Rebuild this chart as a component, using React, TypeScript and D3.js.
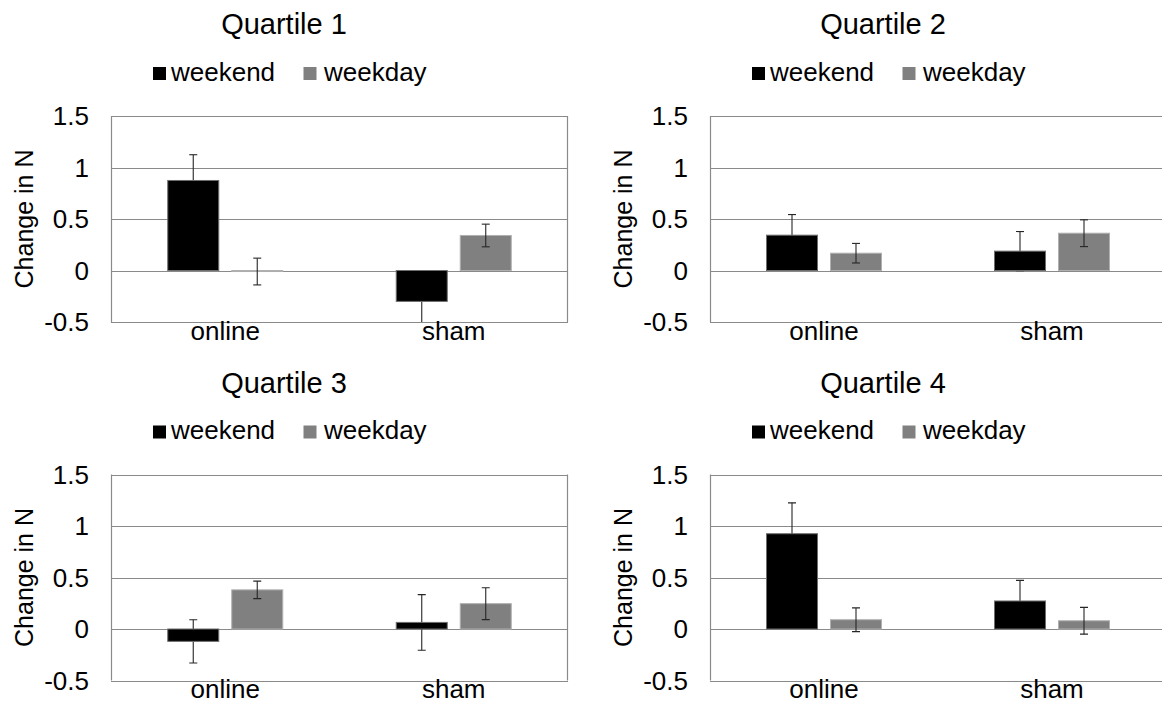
import React from "react";
import * as d3 from "d3";

const categories = ["online", "sham"];
const series = ["weekend", "weekday"];
const quartileTitles = ["Quartile 1", "Quartile 2", "Quartile 3", "Quartile 4"];

// values[quartile][category] = [weekend, weekday]
const q1Values = [[0.874, -0.01], [-0.3, 0.34]];
const q2Values = [[0.343, 0.168], [0.188, 0.362]];
const q3Values = [[-0.12, 0.38], [0.064, 0.246]];
const q4Values = [[0.925, 0.09], [0.272, 0.08]];

const q1Errors = [[0.25, 0.13], [0.26, 0.11]];
const q2Errors = [[0.2, 0.095], [0.19, 0.13]];
const q3Errors = [[0.21, 0.085], [0.27, 0.155]];
const q4Errors = [[0.3, 0.115], [0.2, 0.13]];

const yTicks = [-0.5, 0, 0.5, 1, 1.5];
const yTickLabels = ["-0.5", "0", "0.5", "1", "1.5"];
const yLabel = "Change in N";

const seriesColors = ["#000000", "#808080"];
const seriesStroke = ["#6e6e6e", "#b0b0b0"];

const panels = [
  { left: 111, right: 568, top: 116, bottom: 322, values: q1Values, errors: q1Errors, title: quartileTitles[0], dx: 0, dy: 0 },
  { left: 710, right: 1166, top: 116, bottom: 322, values: q2Values, errors: q2Errors, title: quartileTitles[1], dx: 599, dy: 0 },
  { left: 111, right: 568, top: 474.5, bottom: 680.5, values: q3Values, errors: q3Errors, title: quartileTitles[2], dx: 0, dy: 358.5 },
  { left: 710, right: 1166, top: 474.5, bottom: 680.5, values: q4Values, errors: q4Errors, title: quartileTitles[3], dx: 599, dy: 358.5 },
];

const FONT = "'Liberation Sans', Arial, sans-serif";
const W = 1162;
const H = 703;

function Panel({ p, idx }: { p: any; idx: number }) {
  const y = d3.scaleLinear().domain([-0.5, 1.5]).range([p.bottom, p.top]);
  const x0 = d3.scaleBand<string>().domain(categories).range([p.left, p.right]).paddingInner(0).paddingOuter(0);
  const bw = x0.bandwidth();
  const x1 = d3
    .scaleBand<string>()
    .domain(series)
    .range([bw / 2 - 57.5, bw / 2 + 57.5])
    .paddingInner(0.203)
    .paddingOuter(0);
  const barW = x1.bandwidth();
  const gridRight = Math.min(p.right, W);
  const clipId = `clip${idx}`;
  const cap = 4;

  const errorBars = (si: number) =>
    categories.map((c, ci) => {
      const s = series[si];
      const v = p.values[ci][si];
      const e = p.errors[ci][si];
      const cx = (x0(c) as number) + (x1(s) as number) + barW / 2;
      const yt = y(v + e);
      const yb = y(v - e);
      const showBottomCap = v - e >= -0.5;
      return (
        <g key={"e" + c + s} stroke="#262626" strokeWidth={1.1}>
          <line x1={cx} x2={cx} y1={yt} y2={yb} />
          <line x1={cx - cap} x2={cx + cap} y1={yt} y2={yt} />
          {showBottomCap && <line x1={cx - cap} x2={cx + cap} y1={yb} y2={yb} />}
        </g>
      );
    });

  const bars = (si: number) =>
    categories.map((c, ci) => {
      const s = series[si];
      const v = p.values[ci][si];
      const bx = (x0(c) as number) + (x1(s) as number);
      const y0 = y(0);
      const yv = y(v);
      return (
        <rect
          key={c + s}
          x={bx}
          y={Math.min(y0, yv)}
          width={barW}
          height={Math.max(Math.abs(y0 - yv), 0.8)}
          fill={seriesColors[si]}
          stroke={seriesStroke[si]}
          strokeWidth={1}
        />
      );
    });

  return (
    <g>
      <defs>
        <clipPath id={clipId}>
          <rect x={p.left} y={p.top} width={p.right - p.left} height={p.bottom - p.top} />
        </clipPath>
      </defs>
      <text x={284 + p.dx} y={34 + p.dy} textAnchor="middle" fontSize={29} fontFamily={FONT} fill="#000">
        {p.title}
      </text>
      <rect x={153 + p.dx} y={67 + p.dy} width={13} height={13} fill={seriesColors[0]} />
      <text x={171 + p.dx} y={80.5 + p.dy} fontSize={26} fontFamily={FONT} fill="#000">
        {series[0]}
      </text>
      <rect x={303.5 + p.dx} y={67 + p.dy} width={13} height={13} fill={seriesColors[1]} />
      <text x={324 + p.dx} y={80.5 + p.dy} fontSize={26} fontFamily={FONT} fill="#000">
        {series[1]}
      </text>
      <text
        transform={`translate(${33 + p.dx},${(p.top + p.bottom) / 2}) rotate(-90)`}
        textAnchor="middle"
        fontSize={25}
        fontFamily={FONT}
        fill="#000"
      >
        {yLabel}
      </text>
      {yTicks.map((t) => (
        <line
          key={t}
          x1={p.left}
          x2={gridRight}
          y1={Math.round(y(t)) + 0.5}
          y2={Math.round(y(t)) + 0.5}
          stroke="#8a8a8a"
          strokeWidth={1.2}
        />
      ))}
      <line x1={p.left + 0.5} x2={p.left + 0.5} y1={p.top} y2={p.bottom} stroke="#8a8a8a" strokeWidth={1.2} />
      {p.right <= W && (
        <line x1={p.right - 0.5} x2={p.right - 0.5} y1={p.top} y2={p.bottom} stroke="#8a8a8a" strokeWidth={1.2} />
      )}
      {yTicks.map((t, i) => (
        <text
          key={t}
          x={p.left - 22}
          y={y(t)}
          dy="0.36em"
          textAnchor="end"
          fontSize={26}
          fontFamily={FONT}
          fill="#000"
        >
          {yTickLabels[i]}
        </text>
      ))}
      <g clipPath={`url(#${clipId})`}>
        {errorBars(0)}
        {bars(0)}
        {bars(1)}
        {errorBars(1)}
      </g>
      {categories.map((c) => (
        <text
          key={c}
          x={(x0(c) as number) + bw / 2}
          y={p.bottom + 17.5}
          textAnchor="middle"
          fontSize={26}
          fontFamily={FONT}
          fill="#000"
        >
          {c}
        </text>
      ))}
    </g>
  );
}

export default function App() {
  return (
    <svg
      width={W}
      height={H}
      viewBox={`0 0 ${W} ${H}`}
      style={{ position: "absolute", left: 0, top: 0, background: "#fff" }}
    >
      <rect x={0} y={0} width={W} height={H} fill="#fff" />
      {panels.map((p, i) => (
        <Panel key={i} p={p} idx={i} />
      ))}
    </svg>
  );
}
